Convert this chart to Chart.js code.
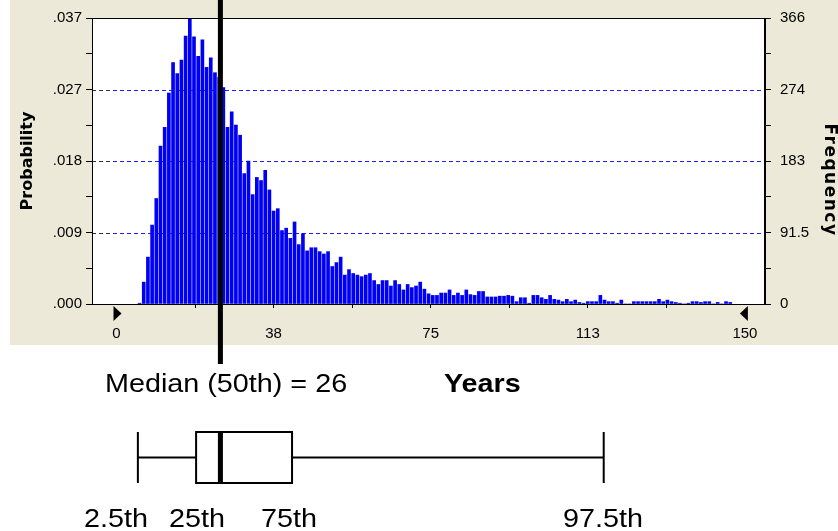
<!DOCTYPE html>
<html>
<head>
<meta charset="utf-8">
<script src="https://cdn.jsdelivr.net/npm/chart.js@4"></script>
<style>
  html, body { margin: 0; padding: 0; background: #fff; }
  #wrap { width: 838px; height: 531px; position: relative; }
</style>
</head>
<body>
<div id="wrap"><canvas id="chart"></canvas></div>
<script>
// histogram bins (start year of each 1-year bin) and trial counts, 10000 trials
const binYears = [5, 6, 7, 8, 9, 10, 11, 12, 13, 14, 15, 16, 17, 18, 19, 20, 21, 22, 23, 24,
  25, 26, 27, 28, 29, 30, 31, 32, 33, 34, 35, 36, 37, 38, 39, 40, 41, 42, 43, 44,
  45, 46, 47, 48, 49, 50, 51, 52, 53, 54, 55, 56, 57, 58, 59, 60, 61, 62, 63, 64,
  65, 66, 67, 68, 69, 70, 71, 72, 73, 74, 75, 76, 77, 78, 79, 80, 81, 82, 83, 84,
  85, 86, 87, 88, 89, 90, 91, 92, 93, 94, 95, 96, 97, 98, 99, 100, 101, 102, 103, 104,
  105, 106, 107, 108, 109, 110, 111, 112, 113, 114, 115, 116, 117, 118, 119, 120, 121, 122, 123, 124,
  125, 126, 127, 128, 129, 130, 131, 132, 133, 134, 135, 136, 137, 138, 139, 140, 141, 142, 143, 144,
  145, 146];
const frequency = [1, 28, 60, 101, 135, 202, 226, 270, 309, 295, 312, 343, 365, 342, 317, 338, 303, 315, 296, 290,
  277, 226, 246, 229, 216, 167, 183, 140, 162, 158, 171, 146, 119, 122, 94, 97, 84, 105, 76, 90,
  68, 72, 72, 67, 64, 67, 48, 53, 60, 37, 44, 39, 37, 35, 37, 39, 30, 25, 30, 30,
  23, 30, 25, 18, 25, 21, 23, 28, 19, 13, 11, 11, 14, 14, 18, 11, 14, 11, 18, 12,
  11, 16, 16, 9, 9, 9, 10, 10, 11, 10, 3, 8, 8, 1, 11, 11, 8, 6, 11, 6,
  5, 3, 6, 3, 5, 2, 1, 3, 3, 3, 11, 5, 3, 3, 1, 5, 0, 0, 3, 3,
  3, 3, 3, 3, 6, 3, 5, 3, 2, 1, 0, 1, 3, 3, 2, 3, 3, 0, 2, 0,
  3, 2];

// axes
const xTickVals = [0, 18.75, 37.5, 56.25, 75, 93.75, 112.5, 131.25, 150];
const xTickLabels = ['0', '', '38', '', '75', '', '113', '', '150'];
const yTickVals = [0, 45.75, 91.5, 137.25, 183, 228.75, 274.5, 320.25, 366];
const probLabels = ['.000', '', '.009', '', '.018', '', '.027', '', '.037'];
const freqLabels = ['0', '', '91.5', '', '183', '', '274', '', '366'];
const gridVals = [91.5, 183, 274.5];

// percentiles: 2.5th, 25th, 50th, 75th, 97.5th (in years)
const percentiles = [5.1, 19.0, 24.8, 41.9, 116.3];
const percentileLabels = ['2.5th', '25th', '75th', '97.5th'];
const medianText = 'Median (50th) = 26';
const unitText = 'Years';

Chart.defaults.font.family = "'Liberation Sans', Arial, sans-serif";
Chart.defaults.color = '#000';

const beige = '#ece9d8';

const decor = {
  id: 'decor',
  beforeDraw(c) {
    const g = c.ctx, a = c.chartArea;
    g.save();
    g.fillStyle = '#fff';
    g.fillRect(0, 0, c.width, c.height);
    g.fillStyle = beige;
    g.fillRect(10, 0, c.width - 10, 345);
    g.fillStyle = '#fff';
    g.fillRect(a.left, a.top, a.right - a.left, a.bottom - a.top);
    g.restore();
  },
  beforeDatasetsDraw(c) {
    const g = c.ctx, a = c.chartArea, y = c.scales.y;
    g.save();
    g.lineWidth = 1;
    g.setLineDash([4, 3]);
    gridVals.forEach(v => {
      const py = Math.round(y.getPixelForValue(v)) + 0.5;
      g.strokeStyle = '#1f1fff';
      g.beginPath();
      g.moveTo(a.left + 21, py);
      g.lineTo(a.right, py);
      g.stroke();
      g.strokeStyle = '#333';
      g.beginPath();
      g.moveTo(a.left, py);
      g.lineTo(a.left + 21, py);
      g.stroke();
    });
    g.restore();
  },
  afterDraw(c) {
    const g = c.ctx, a = c.chartArea, x = c.scales.x;
    g.save();
    // frame
    g.strokeStyle = '#000';
    g.lineWidth = 1;
    g.strokeRect(a.left + 0.5, a.top + 0.5, a.right - a.left - 1, a.bottom - a.top);

    // right axis title
    g.save();
    g.fillStyle = '#000';
    g.font = "bold 17px 'DejaVu Sans', sans-serif";
    g.letterSpacing = '1.5px';
    g.textAlign = 'center';
    g.textBaseline = 'middle';
    g.translate(829, 180);
    g.rotate(Math.PI / 2);
    g.fillText('Frequency', 0, 0);
    g.restore();

    // range grabbers
    const p0 = x.getPixelForValue(0), p1 = x.getPixelForValue(150);
    g.fillStyle = '#000';
    g.beginPath();
    g.moveTo(p0 - 3, a.bottom + 2); g.lineTo(p0 - 3, a.bottom + 17); g.lineTo(p0 + 5, a.bottom + 9.5);
    g.closePath(); g.fill();
    g.beginPath();
    g.moveTo(p1 + 3, a.bottom + 2); g.lineTo(p1 + 3, a.bottom + 17); g.lineTo(p1 - 5, a.bottom + 9.5);
    g.closePath(); g.fill();

    // median line
    const pm = x.getPixelForValue(percentiles[2]);
    g.lineWidth = 5;
    g.beginPath();
    g.moveTo(pm, 0);
    g.lineTo(pm, 364);
    g.stroke();

    // texts
    const txt = (t, px, py, align, bold) => {
      g.save();
      g.font = (bold ? 'bold ' : '') + "25px 'Liberation Sans', Arial, sans-serif";
      g.textAlign = align;
      g.textBaseline = 'alphabetic';
      g.translate(px, py);
      g.scale(1.15, 1);
      g.fillText(t, 0, 0);
      g.restore();
    };
    g.fillStyle = '#000';
    txt(medianText, 105, 392, 'left', false);
    txt(unitText, 444, 392, 'left', true);

    // box plot
    const [q0, q1, q2, q3, q4] = percentiles.map(v => x.getPixelForValue(v));
    const bTop = 432, bBot = 483, bMid = (bTop + bBot) / 2;
    g.lineWidth = 2;
    g.beginPath();
    g.moveTo(q0, bTop); g.lineTo(q0, bBot);
    g.moveTo(q4, bTop); g.lineTo(q4, bBot);
    g.moveTo(q0, bMid); g.lineTo(q1, bMid);
    g.moveTo(q3, bMid); g.lineTo(q4, bMid);
    g.stroke();
    g.strokeRect(q1, bTop, q3 - q1, bBot - bTop);
    g.lineWidth = 5;
    g.beginPath();
    g.moveTo(q2, bTop); g.lineTo(q2, bBot);
    g.stroke();

    const labelX = [116, 197, 289, 603];
    percentileLabels.forEach((t, i) => txt(t, labelX[i], 527, 'center', false));
    g.restore();
  }
};

new Chart(document.getElementById('chart'), {
  type: 'bar',
  data: {
    datasets: [{
      data: binYears.map((yr, i) => ({ x: yr + 0.5, y: frequency[i] })),
      backgroundColor: '#0000f4',
      borderWidth: 0,
      barThickness: 3,
      xAxisID: 'x',
      yAxisID: 'y'
    }]
  },
  options: {
    responsive: true,
    maintainAspectRatio: false,
    animation: false,
    layout: { padding: { top: 15, left: 0, right: 0, bottom: 0 } },
    plugins: { legend: { display: false }, tooltip: { enabled: false } },
    scales: {
      x: {
        type: 'linear',
        offset: false,
        min: -5.85,
        max: 154.8,
        afterBuildTicks: s => { s.ticks = xTickVals.map(v => ({ value: v })); },
        afterFit: s => { s.height = 227; },
        ticks: {
          autoSkip: false,
          maxRotation: 0,
          padding: 17,
          font: { size: 15 },
          callback: (v, i) => xTickLabels[i]
        },
        grid: {
          drawOnChartArea: false,
          offset: false,
          tickLength: 4,
          tickColor: ctx => (ctx.index === 0 || ctx.index === xTickVals.length - 1) ? 'rgba(0,0,0,0)' : '#000'
        },
        border: { color: '#000' }
      },
      y: {
        position: 'left',
        min: 0,
        max: 366,
        afterBuildTicks: s => { s.ticks = yTickVals.map(v => ({ value: v })); },
        afterFit: s => { s.width = 92; },
        ticks: {
          autoSkip: false,
          padding: 4,
          font: { size: 15 },
          callback: (v, i) => probLabels[i]
        },
        grid: { drawOnChartArea: false, tickLength: 6, tickColor: '#000' },
        border: { color: '#000' },
        title: {
          display: true,
          text: 'Probability',
          font: { size: 16, weight: 'bold', family: "'DejaVu Sans', sans-serif" },
          padding: { top: 18, bottom: 0 }
        }
      },
      y2: {
        position: 'right',
        min: 0,
        max: 366,
        afterBuildTicks: s => { s.ticks = yTickVals.map(v => ({ value: v })); },
        afterFit: s => { s.width = 73; },
        ticks: {
          autoSkip: false,
          padding: 9,
          font: { size: 15 },
          callback: (v, i) => freqLabels[i]
        },
        grid: { drawOnChartArea: false, tickLength: 6, tickColor: '#000' },
        border: { color: '#000' }
      }
    }
  },
  plugins: [decor]
});
</script>
</body>
</html>
